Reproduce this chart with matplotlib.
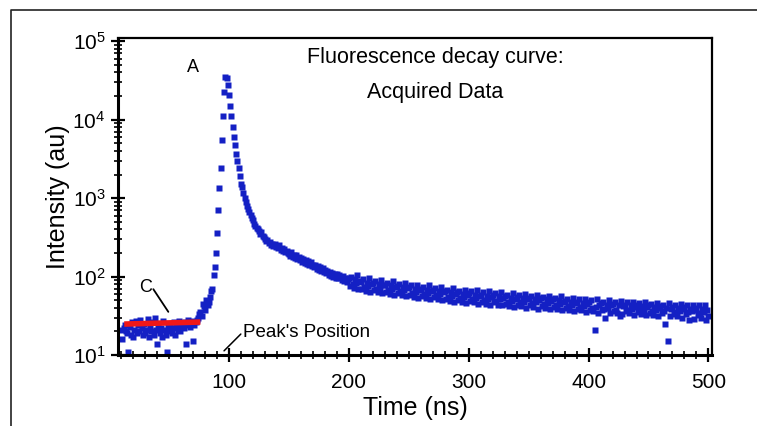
import numpy as np
import matplotlib
matplotlib.use('Agg')
import matplotlib.pyplot as plt
from matplotlib.lines import Line2D
from matplotlib.ticker import LogLocator, FixedLocator, MultipleLocator, FuncFormatter

plt.rcParams['font.family'] = ['Liberation Sans', 'DejaVu Sans']
plt.rcParams['mathtext.default'] = 'regular'

# 采样起点 (ns)，每 1 ns 一个点
t_start = 10

# 基线 10-75 ns
baseline = [21, 16, 22, 24, 20, 19, 11, 23, 18, 26,
            17, 21, 27, 19, 24, 20, 28, 22, 18, 25,
            19, 21, 29, 17, 23, 20, 26, 18, 30, 21,
            14, 24, 19, 22, 17, 27, 21, 18, 11, 23,
            20, 25, 19, 22, 26, 18, 24, 21, 27, 20,
            23, 25, 22, 26, 14, 24, 28, 23, 25, 27,
            15, 24, 26, 28, 30, 33]

# 上升沿 76-97 ns
rise = [35, 31, 45, 42, 38, 50, 43, 48, 55, 66,
        70, 104, 132, 200, 355, 710, 1350, 2450, 5500, 11000,
        22400, 35500]

# 衰减 98-124 ns
decay = [34000, 28000, 20400, 14800, 11000, 8100, 6000, 4800, 3700, 3000,
         2400, 1900, 1500, 1380, 1150, 1000, 900, 800, 720, 660,
         610, 560, 520, 470, 440, 420, 400]

# 尾部 125-500 ns
tail = [385, 352, 368, 330, 318,
        305, 288, 296, 268, 279, 255, 262, 248, 259, 236,
        244, 229, 251, 218, 232, 210, 224, 205, 214, 198,
        196, 184, 205, 178, 189, 172, 186, 168, 180, 163,
        170, 155, 166, 149, 161, 143, 158, 140, 152, 135,
        142, 131, 139, 125, 136, 120, 131, 117, 127, 113,
        122, 111, 119, 106, 116, 103, 112, 100, 109, 97,
        107, 95, 104, 99, 91, 102, 88, 96, 85, 93,
        96, 76, 100, 81, 72, 92, 83, 104, 70, 88,
        86, 70, 92, 74, 66, 84, 76, 95, 64, 81,
        83, 67, 87, 70, 63, 80, 72, 90, 61, 77,
        79, 64, 84, 67, 60, 77, 70, 87, 58, 74,
        76, 61, 80, 65, 58, 73, 67, 83, 56, 71,
        73, 58, 77, 62, 55, 70, 64, 79, 53, 68,
        70, 57, 74, 60, 54, 68, 62, 77, 52, 66,
        68, 55, 72, 58, 52, 66, 60, 74, 50, 63,
        65, 52, 68, 55, 49, 63, 57, 71, 48, 60,
        63, 50, 66, 53, 48, 60, 55, 68, 46, 58,
        62, 49, 65, 52, 47, 59, 54, 67, 45, 57,
        59, 48, 63, 50, 45, 57, 52, 65, 43, 55,
        58, 47, 61, 49, 44, 56, 51, 64, 43, 54,
        56, 45, 59, 48, 42, 54, 49, 61, 41, 52,
        55, 44, 58, 47, 42, 53, 48, 60, 40, 51,
        54, 43, 57, 46, 41, 52, 47, 59, 39, 50,
        53, 42, 55, 45, 40, 51, 46, 57, 39, 49,
        52, 41, 54, 44, 39, 50, 45, 56, 38, 48,
        49, 40, 52, 42, 37, 48, 43, 54, 36, 46,
        48, 39, 51, 41, 37, 46, 42, 52, 35, 45,
        47, 38, 50, 40, 36, 21, 41, 51, 34, 44,
        46, 37, 48, 39, 30, 44, 40, 50, 34, 43,
        45, 36, 47, 38, 34, 43, 31, 49, 33, 42,
        44, 36, 47, 38, 34, 43, 39, 48, 32, 41,
        44, 35, 46, 37, 33, 42, 38, 48, 32, 41,
        43, 34, 45, 36, 32, 41, 37, 46, 31, 40,
        42, 34, 44, 36, 25, 40, 15, 46, 31, 39,
        41, 33, 44, 35, 31, 40, 36, 45, 30, 39,
        41, 33, 43, 35, 28, 39, 36, 44, 29, 38,
        40, 32, 43, 34, 30, 39, 35, 44, 28, 38,
        31]

# 基线拟合 (C)
fit_t = [12.5, 76]
fit_y = [24.8, 26.3]

counts = np.array(baseline + rise + decay + tail, dtype=float)
t = np.arange(t_start, t_start + len(counts))

fig = plt.figure(figsize=(7.57, 4.26), dpi=100)
ax = fig.add_axes([118 / 757, 1 - 355 / 426, (712 - 118) / 757, (355 - 38) / 426])

ax.plot(t, counts, 's', color='#1420c4', ms=3.7, mec='none')
ax.plot(fit_t, fit_y, '-', color='#f01818', lw=4, solid_capstyle='butt')

ax.set_yscale('log')
ax.set_xlim(7.3, 503)
ax.set_ylim(10, 1.1e5)

ax.xaxis.set_major_locator(FixedLocator([100, 200, 300, 400, 500]))
ax.xaxis.set_minor_locator(MultipleLocator(10))
ax.yaxis.set_major_locator(FixedLocator([1e1, 1e2, 1e3, 1e4, 1e5]))
ax.yaxis.set_minor_locator(LogLocator(base=10, subs=np.arange(2, 10)))
ax.yaxis.set_major_formatter(FuncFormatter(lambda v, p: '$10^{%d}$' % round(np.log10(v))))
ax.yaxis.set_minor_formatter(FuncFormatter(lambda v, p: ''))

ax.tick_params(which='major', direction='inout', length=10, width=1.6, labelsize=15, color='black')
ax.tick_params(which='minor', direction='inout', length=6, width=1.2)
ax.tick_params(axis='x', pad=8)
ax.tick_params(axis='y', pad=4)

for side in ['left', 'bottom']:
    ax.spines[side].set_linewidth(2.2)
for side in ['top', 'right']:
    ax.spines[side].set_linewidth(1.6)

ax.set_xlabel('Time (ns)', fontsize=18, labelpad=3)
ax.set_ylabel('Intensity (au)', fontsize=18, labelpad=2)

ax.text(272, 3.7e4, 'Fluorescence decay curve:\nAcquired Data', fontsize=15.5,
        ha='center', va='center', linespacing=1.85)
ax.text(70, 4.6e4, 'A', fontsize=13, ha='center', va='center')

ax.text(30, 73, 'C', fontsize=13, ha='center', va='center')
ax.annotate('', xy=(49.3, 35.5), xytext=(36.8, 69),
            arrowprops=dict(arrowstyle='-', color='black', lw=1.3, shrinkA=0, shrinkB=0))
ax.text(111.7, 19.6, "Peak's Position", fontsize=13.5, ha='left', va='center')
ax.annotate('', xy=(95.8, 11.3), xytext=(109.8, 18.5),
            arrowprops=dict(arrowstyle='-', color='black', lw=1.1, shrinkA=0, shrinkB=0))

# 外框
fig.add_artist(Line2D([11 / 757, 11 / 757, 1.0], [0, 1 - 10 / 426, 1 - 10 / 426],
                      transform=fig.transFigure, color='#222222', lw=1.2))

fig.savefig('out.png', dpi=100)
